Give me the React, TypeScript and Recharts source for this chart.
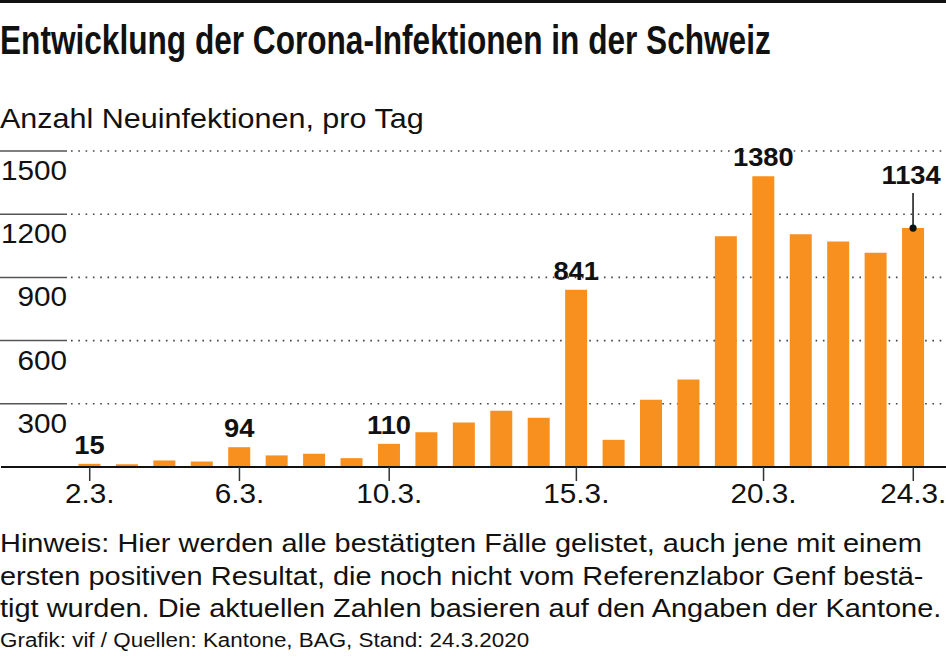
import React from 'react';
import { BarChart, Bar, XAxis, YAxis, CartesianGrid, LabelList } from 'recharts';

const days = [
  '2.3.', '3.3.', '4.3.', '5.3.', '6.3.', '7.3.', '8.3.', '9.3.', '10.3.', '11.3.', '12.3.', '13.3.',
  '14.3.', '15.3.', '16.3.', '17.3.', '18.3.', '19.3.', '20.3.', '21.3.', '22.3.', '23.3.', '24.3.',
];
const newCases = [
  15, 13, 31, 26, 94, 55, 63, 42, 110, 165, 211, 267,
  234, 841, 129, 319, 415, 1095, 1380, 1105, 1070, 1017, 1134,
];
const tickDays = ['2.3.', '6.3.', '10.3.', '15.3.', '20.3.', '24.3.'];
const labelledDays = ['2.3.', '6.3.', '10.3.', '15.3.', '20.3.', '24.3.'];
const leaderDay = '24.3.';
const yTicks = [0, 300, 600, 900, 1200, 1500];

const data = days.map((day, i) => ({ day, cases: newCases[i] }));

const FONT = '"Liberation Sans", Arial, Helvetica, sans-serif';
const ORANGE = '#f7901e';
// the source type is a bit wider than Liberation Sans, so stretch it a little
const STRETCH = 1.1;

const YTick = ({ y, payload }: any) => {
  if (payload.value === 0) return null;
  return (
    <g>
      <line x1={0} x2={67} y1={y} y2={y} stroke="#555" strokeWidth={1.5} />
      <text
        transform={`translate(67,${y + 29}) scale(${STRETCH},1)`}
        textAnchor="end"
        fontSize={27}
        fontFamily={FONT}
        fill="#111"
      >
        {payload.value}
      </text>
    </g>
  );
};

const XTick = ({ x, y, payload }: any) => {
  if (!tickDays.includes(payload.value)) return null;
  return (
    <g>
      <line x1={x} x2={x} y1={y} y2={y + 14} stroke="#333" strokeWidth={1.5} />
      <text
        transform={`translate(${x},${y + 36}) scale(${STRETCH},1)`}
        textAnchor="middle"
        fontSize={27}
        fontFamily={FONT}
        fill="#111"
      >
        {payload.value}
      </text>
    </g>
  );
};

const GridLine = (props: any) => {
  const { y1, y2 } = props;
  return (
    <line
      key={`g-${y1}`}
      x1={71}
      x2={946}
      y1={y1}
      y2={y2}
      stroke="#444"
      strokeWidth={1.6}
      strokeDasharray="1.6 5.7"
    />
  );
};

const ValueLabel = (props: any) => {
  const { x, y, width, value, index } = props;
  const day = days[index];
  if (!labelledDays.includes(day)) return null;
  const cx = x + width / 2;
  const textProps = {
    textAnchor: 'middle' as const,
    fontSize: 26,
    fontWeight: 'bold',
    fontFamily: FONT,
    fill: '#111',
  };
  if (day === leaderDay) {
    return (
      <g>
        <line x1={cx} x2={cx} y1={y - 35} y2={y} stroke="#111" strokeWidth={1.5} />
        <circle cx={cx} cy={y} r={3.6} fill="#111" />
        <text transform={`translate(${cx - 2},${y - 44}) scale(1.05,1)`} {...textProps}>
          {value}
        </text>
      </g>
    );
  }
  return (
    <text transform={`translate(${cx},${y - 10}) scale(1.05,1)`} {...textProps}>
      {value}
    </text>
  );
};

const App: React.FC = () => {
  return (
    <div
      style={{
        position: 'absolute',
        left: 0,
        top: 0,
        width: 946,
        height: 660,
        background: '#fff',
        fontFamily: FONT,
        color: '#111',
        overflow: 'hidden',
      }}
    >
      <div style={{ position: 'absolute', left: 0, top: 0, width: 946, height: 3, background: '#111' }} />
      <div
        style={{
          position: 'absolute',
          left: 0,
          top: 17,
          fontWeight: 'bold',
          fontSize: 40,
          lineHeight: '46px',
          whiteSpace: 'nowrap',
          transform: 'scaleX(0.79)',
          transformOrigin: 'left top',
        }}
      >
        Entwicklung der Corona-Infektionen in der Schweiz
      </div>
      <div
        style={{
          position: 'absolute',
          left: 0,
          top: 102,
          fontSize: 28,
          lineHeight: '34px',
          whiteSpace: 'nowrap',
          transform: 'scaleX(1.09)',
          transformOrigin: 'left top',
        }}
      >
        Anzahl Neuinfektionen, pro Tag
      </div>

      <div style={{ position: 'absolute', left: 0, top: 140 }}>
        <BarChart
          width={946}
          height={370}
          data={data}
          margin={{ top: 11, right: 0, left: 0, bottom: 0 }}
          barCategoryGap="20%"
        >
          <CartesianGrid vertical={false} horizontal={GridLine} />
          <XAxis
            dataKey="day"
            height={43}
            interval={0}
            padding={{ left: 70, right: 14 }}
            axisLine={{ stroke: '#111', strokeWidth: 2.2 }}
            tickLine={false}
            tickSize={0}
            tickMargin={0}
            tick={XTick}
          />
          <YAxis
            width={1}
            domain={[0, 1500]}
            ticks={yTicks}
            axisLine={false}
            tickLine={false}
            tick={YTick}
            interval={0}
          />
          <Bar dataKey="cases" fill={ORANGE} isAnimationActive={false}>
            <LabelList dataKey="cases" content={ValueLabel} />
          </Bar>
        </BarChart>
      </div>

      <div
        style={{
          position: 'absolute',
          left: 0,
          top: 527,
          fontSize: 25.5,
          lineHeight: '32.5px',
          whiteSpace: 'nowrap',
          transform: 'scaleX(1.135)',
          transformOrigin: 'left top',
        }}
      >
        <div>Hinweis: Hier werden alle bestätigten Fälle gelistet, auch jene mit einem</div>
        <div>ersten positiven Resultat, die noch nicht vom Referenzlabor Genf bestä-</div>
        <div>tigt wurden. Die aktuellen Zahlen basieren auf den Angaben der Kantone.</div>
      </div>
      <div
        style={{
          position: 'absolute',
          left: 0,
          top: 628,
          fontSize: 20,
          lineHeight: '24px',
          whiteSpace: 'nowrap',
          transform: 'scaleX(1.12)',
          transformOrigin: 'left top',
        }}
      >
        Grafik: vif / Quellen: Kantone, BAG, Stand: 24.3.2020
      </div>
    </div>
  );
};

export default App;
